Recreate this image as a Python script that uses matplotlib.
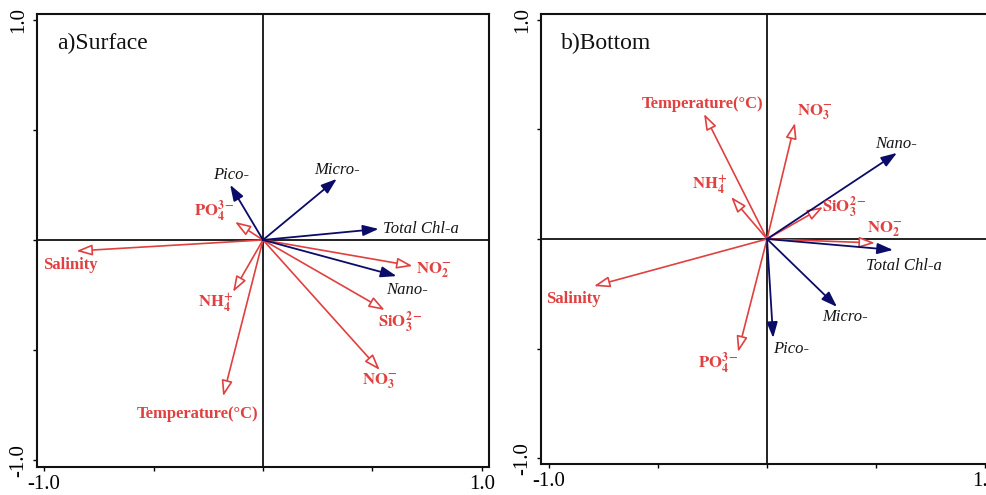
import matplotlib
matplotlib.use("Agg")
import matplotlib.pyplot as plt

plt.rcParams['font.family'] = ['Liberation Serif', 'DejaVu Serif']
plt.rcParams['mathtext.fontset'] = 'stix'

# ---------------- data ----------------
env_names = ['Temperature(°C)', 'Salinity', r'$\mathbf{NO_3^{-}}$', r'$\mathbf{NO_2^{-}}$',
             r'$\mathbf{NH_4^{+}}$', r'$\mathbf{PO_4^{3-}}$', r'$\mathbf{SiO_3^{2-}}$']
sp_names = ['Pico-', 'Nano-', 'Micro-', 'Total Chl-a']

# a) Surface
surf_env_x = [-0.182, -0.852, 0.533, 0.683, -0.137, -0.128, 0.556]
surf_env_y = [-0.709, -0.050, -0.590, -0.118, -0.236, 0.082, -0.318]
surf_sp_x = [-0.150, 0.610, 0.337, 0.528]
surf_sp_y = [0.250, -0.164, 0.277, 0.050]

# b) Bottom
bot_env_x = [-0.289, -0.794, 0.128, 0.495, -0.165, -0.133, 0.257]
bot_env_y = [0.571, -0.215, 0.530, -0.018, 0.192, -0.516, 0.146]
bot_sp_x = [0.028, 0.596, 0.321, 0.578]
bot_sp_y = [-0.452, 0.393, -0.310, -0.050]

titles = ['a)Surface', 'b)Bottom']
tick_vals = [-1.0, -0.5, 0.0, 0.5, 1.0]
tick_labels = ['-1.0', '', '', '', '1.0']

# ---------------- style / layout ----------------
RED = '#e04040'
NAVY = '#0b0b68'
W, H = 987, 495

# label offsets in pixels (dx, dy)
surf_env_off = [(-26, -18), (-6, -14), (0, -11), (21, -4), (-17, -11), (-21, 11), (16, -12)]
surf_sp_off = [(1, 10), (10, -14), (0, 9), (4, 0)]
surf_sp_ha = ['center', 'center', 'center', 'left']
bot_env_off = [(-1, 10), (-21, -13), (20, 11), (10, 14), (-21, 12), (-20, -11), (21, 0)]
bot_sp_off = [(18, -11), (-1, 9), (8, -10), (11, -16)]
bot_sp_ha = ['center', 'center', 'center', 'center']

fig = plt.figure(figsize=(W / 100, H / 100), dpi=100)

panels = [
    dict(rect=[37 / W, (H - 467) / H, 452 / W, 453 / H], xlim=(-1.032, 1.032), ylim=(-1.03, 1.025),
         ex=surf_env_x, ey=surf_env_y, sx=surf_sp_x, sy=surf_sp_y,
         eoff=surf_env_off, soff=surf_sp_off, sha=surf_sp_ha, title=titles[0]),
    dict(rect=[541 / W, (H - 464) / H, 451 / W, 450 / H], xlim=(-1.037, 1.032), ylim=(-1.027, 1.027),
         ex=bot_env_x, ey=bot_env_y, sx=bot_sp_x, sy=bot_sp_y,
         eoff=bot_env_off, soff=bot_sp_off, sha=bot_sp_ha, title=titles[1]),
]

for p in panels:
    ax = fig.add_axes(p['rect'])
    ax.set_xlim(*p['xlim'])
    ax.set_ylim(*p['ylim'])
    for s in ax.spines.values():
        s.set_linewidth(1.5)
        s.set_color('#111111')
    ax.axhline(0, color='#111111', lw=1.3, zorder=1)
    ax.axvline(0, color='#111111', lw=1.3, zorder=1)
    ax.set_xticks(tick_vals)
    ax.set_xticklabels(tick_labels, fontsize=15)
    ax.set_yticks(tick_vals)
    ax.set_yticklabels(tick_labels, fontsize=15, rotation=90, va='center')
    ax.tick_params(direction='out', length=3, width=1.0, pad=3)
    ax.text(0.045, 0.935, p['title'], transform=ax.transAxes, fontsize=17,
            ha='left', va='center', color='#111111')

    # environment arrows: open red heads
    for name, x, y, (dx, dy) in zip(env_names, p['ex'], p['ey'], p['eoff']):
        ax.annotate('', xy=(x, y), xytext=(0, 0),
                    arrowprops=dict(arrowstyle='-|>,head_length=0.95,head_width=0.33',
                                    color=RED, fc='white', ec=RED, lw=1.2,
                                    shrinkA=0, shrinkB=0), zorder=3)
        ax.annotate(name, xy=(x, y), xytext=(dx, dy), textcoords='offset pixels',
                    ha='center', va='center', fontsize=12, fontweight='bold', color=RED,
                    zorder=4)

    # species arrows: filled navy heads
    for name, x, y, (dx, dy), ha in zip(sp_names, p['sx'], p['sy'], p['soff'], p['sha']):
        ax.annotate('', xy=(x, y), xytext=(0, 0),
                    arrowprops=dict(arrowstyle='-|>,head_length=0.95,head_width=0.33',
                                    color=NAVY, fc=NAVY, ec=NAVY, lw=1.3,
                                    shrinkA=0, shrinkB=0), zorder=3)
        ax.annotate(name, xy=(x, y), xytext=(dx, dy), textcoords='offset pixels',
                    ha=ha, va='center', fontsize=12, fontstyle='italic', color='#151515',
                    zorder=4)

fig.savefig('out.png', dpi=100)
